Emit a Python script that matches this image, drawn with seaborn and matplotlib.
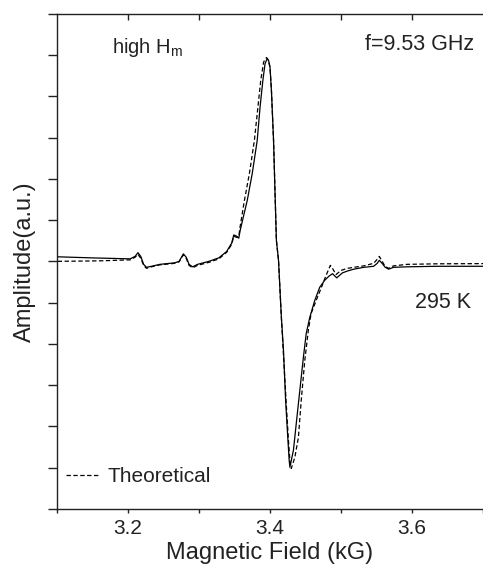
import numpy as np
import pandas as pd
import matplotlib
matplotlib.use("Agg")
import matplotlib.pyplot as plt
import seaborn as sns

# measured (solid) curve, field in kG, amplitude in a.u.
field_exp = [3.101, 3.147, 3.203, 3.210, 3.214, 3.218, 3.222, 3.226, 3.233, 3.245,
             3.266, 3.272, 3.278, 3.282, 3.286, 3.291, 3.298, 3.314, 3.328, 3.339,
             3.346, 3.349, 3.353, 3.356, 3.358, 3.368, 3.375, 3.382, 3.386, 3.390,
             3.393, 3.396, 3.398, 3.400, 3.402, 3.405, 3.407, 3.409, 3.412, 3.416,
             3.419, 3.422, 3.425, 3.427, 3.428, 3.433, 3.437, 3.442, 3.447, 3.451,
             3.456, 3.463, 3.470, 3.477, 3.483, 3.488, 3.494, 3.502, 3.509, 3.518,
             3.532, 3.546, 3.551, 3.554, 3.558, 3.562, 3.567, 3.574, 3.593, 3.635,
             3.700]
amp_exp = [0.11, 0.085, 0.06, 0.12, 0.21, 0.12, -0.073, -0.145, -0.12, -0.073,
           -0.036, 0.0, 0.18, 0.10, -0.073, -0.133, -0.073, 0.0, 0.085, 0.24,
           0.44, 0.64, 0.61, 0.56, 0.75, 1.48, 2.13, 2.93, 3.74, 4.39,
           4.79, 4.91, 4.87, 4.71, 4.15, 2.93, 1.72, 0.51, 0.024, -1.35,
           -2.16, -3.37, -4.26, -4.82, -4.99, -4.58, -3.93, -3.13, -2.33, -1.75,
           -1.36, -0.95, -0.63, -0.46, -0.36, -0.30, -0.40, -0.28, -0.235, -0.19,
           -0.145, -0.12, -0.048, 0.024, -0.05, -0.14, -0.19, -0.145, -0.133, -0.12,
           -0.12]

# theoretical (dashed) curve
field_th = [3.101, 3.161, 3.203, 3.210, 3.214, 3.218, 3.222, 3.226, 3.233, 3.245,
            3.266, 3.272, 3.278, 3.282, 3.286, 3.291, 3.298, 3.314, 3.328, 3.339,
            3.346, 3.349, 3.353, 3.356, 3.358, 3.364, 3.371, 3.378, 3.383, 3.387,
            3.391, 3.395, 3.397, 3.400, 3.402, 3.405, 3.407, 3.409, 3.412, 3.416,
            3.419, 3.423, 3.426, 3.428, 3.430, 3.435, 3.440, 3.444, 3.449, 3.454,
            3.458, 3.465, 3.472, 3.479, 3.485, 3.488, 3.493, 3.500, 3.509, 3.518,
            3.532, 3.546, 3.551, 3.554, 3.558, 3.562, 3.567, 3.574, 3.593, 3.635,
            3.700]
amp_th = [0.0, 0.012, 0.036, 0.10, 0.17, 0.073, -0.097, -0.17, -0.133, -0.085,
          -0.048, -0.012, 0.16, 0.073, -0.097, -0.158, -0.097, -0.024, 0.06, 0.22,
          0.41, 0.61, 0.58, 0.60, 0.85, 1.48, 2.13, 2.93, 3.74, 4.39,
          4.83, 4.94, 4.90, 4.71, 4.15, 2.93, 1.72, 0.51, 0.024, -1.35,
          -2.28, -3.49, -4.34, -4.82, -5.02, -4.75, -4.27, -3.37, -2.40, -1.67,
          -1.26, -0.95, -0.65, -0.34, -0.097, -0.17, -0.32, -0.22, -0.17, -0.145,
          -0.11, -0.048, 0.05, 0.12, 0.0, -0.12, -0.17, -0.11, -0.073, -0.06,
          -0.055]

x_major = [3.2, 3.4, 3.6]
x_minor = [3.1, 3.3, 3.5, 3.7]
y_ticks = np.arange(-6, 7, 1)

sns.set_style("ticks")
plt.rcParams['font.family'] = ['Liberation Sans', 'DejaVu Sans']

exp_df = pd.DataFrame({'field': field_exp, 'amp': amp_exp})
th_df = pd.DataFrame({'field': field_th, 'amp': amp_th})

fig = plt.figure(figsize=(4.83, 5.75), dpi=100)
ax = fig.add_axes([0.118, 0.115, 0.882, 0.861])

sns.lineplot(data=exp_df, x='field', y='amp', ax=ax, color='black',
             linewidth=0.9, estimator=None, sort=False)
sns.lineplot(data=th_df, x='field', y='amp', ax=ax, color='black',
             linewidth=0.9, estimator=None, sort=False,
             linestyle=(0, (3.5, 2)), label='Theoretical')

ax.set_xlim(3.1, 3.7)
ax.set_ylim(-6, 6)
ax.set_xticks(x_major)
ax.set_xticks(x_minor, minor=True)
ax.set_xticklabels(['3.2', '3.4', '3.6'], fontsize=15)
ax.set_yticks(y_ticks)
ax.set_yticklabels([])
ax.tick_params(axis='x', which='both', direction='out', length=3, width=1,
               colors='#222222', labelcolor='#222222', pad=4)
ax.tick_params(axis='y', direction='out', length=6.5, width=1, colors='#222222')

top = ax.secondary_xaxis('top')
top.set_xticks([3.2, 3.3, 3.4, 3.5, 3.6])
top.tick_params(direction='in', length=4.5, width=1, labeltop=False, colors='#222222')

for s in ['left', 'bottom']:
    ax.spines[s].set_linewidth(1)
    ax.spines[s].set_color('#222222')
ax.spines['right'].set_visible(False)
ax.spines['top'].set_visible(False)
top.spines['top'].set_linewidth(1)
top.spines['top'].set_color('#222222')

ax.set_xlabel('Magnetic Field (kG)', fontsize=17, color='#222222', labelpad=3)
ax.set_ylabel('Amplitude(a.u.)', fontsize=17, color='#222222', labelpad=5)

ax.text(3.177, 5.19, 'high H$_\\mathregular{m}$', fontsize=14.5, va='center', color='#222222')
ax.text(3.688, 5.26, 'f=9.53 GHz', fontsize=15.5, va='center', ha='right', color='#222222')
ax.text(3.683, -1.0, '295 K', fontsize=15.5, va='center', ha='right', color='#222222')

leg = ax.legend(loc='lower left', frameon=False, fontsize=15, handlelength=1.5,
                handletextpad=0.45, bbox_to_anchor=(-0.012, 0.016), borderaxespad=0.3)
for t in leg.get_texts():
    t.set_color('#222222')

fig.savefig('out.png', dpi=100)
